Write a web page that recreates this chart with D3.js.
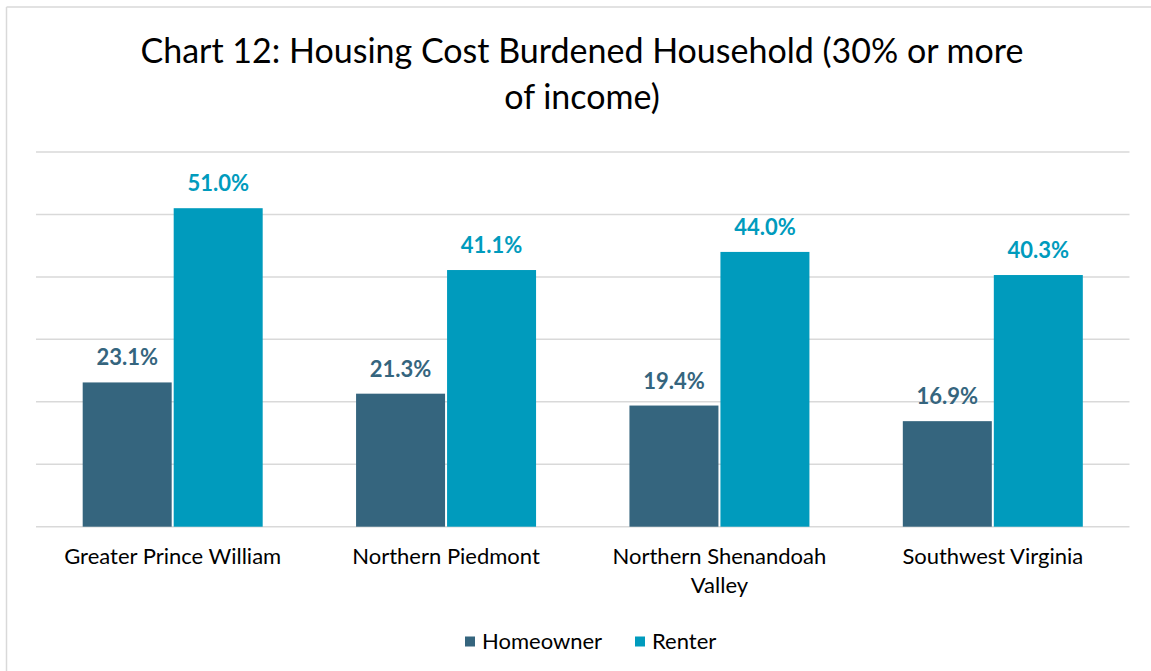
<!DOCTYPE html>
<html>
<head>
<meta charset="utf-8">
<script src="https://cdn.jsdelivr.net/npm/d3@7"></script>
<style>
  html, body { margin: 0; padding: 0; background: #fff; }
  svg { display: block; }
  text { font-family: Lato, "Open Sans", sans-serif; }
</style>
</head>
<body>
<svg id="chart" width="1151" height="671"></svg>
<script>
const titleLines = ["Chart 12: Housing Cost Burdened Household (30% or more", "of income)"];
const categories = ["Greater Prince William", "Northern Piedmont", "Northern Shenandoah Valley", "Southwest Virginia"];
const seriesNames = ["Homeowner", "Renter"];
const homeowner = [23.1, 21.3, 19.4, 16.9];
const renter = [51.0, 41.1, 44.0, 40.3];
const yTicks = [0, 10, 20, 30, 40, 50, 60];
const colors = ["#35657E", "#009BBD"];

const values = [homeowner, renter];
const svg = d3.select("#chart");
const W = 1151, H = 671;

// frame (left & top edges visible)
svg.append("line").attr("x1", 6.5).attr("x2", 6.5).attr("y1", 7).attr("y2", H).attr("stroke", "#d9d9d9").attr("stroke-width", 1.5);
svg.append("line").attr("x1", 6.5).attr("x2", W).attr("y1", 7).attr("y2", 7).attr("stroke", "#d9d9d9").attr("stroke-width", 1.5);

// title
svg.append("g").selectAll("text").data(titleLines).join("text")
  .attr("x", 582).attr("y", (d, i) => 63 + i * 46)
  .attr("text-anchor", "middle")
  .attr("font-size", 34).attr("fill", "#000")
  .text(d => d);

const x0 = d3.scaleBand().domain(categories).range([36, 1129.5]).paddingInner(0.3416).paddingOuter(0.1708);
const x1 = d3.scaleBand().domain(seriesNames).range([0, x0.bandwidth()]).paddingInner(0.022);
const y = d3.scaleLinear().domain([0, 60]).range([526.7, 152]);

// gridlines
svg.append("g").selectAll("line").data(yTicks).join("line")
  .attr("x1", 36).attr("x2", 1129.5)
  .attr("y1", d => y(d)).attr("y2", d => y(d))
  .attr("stroke", "#d9d9d9").attr("stroke-width", 1.5);

// bars
const groups = svg.append("g").selectAll("g").data(categories).join("g")
  .attr("transform", d => `translate(${x0(d)},0)`);

groups.selectAll("rect").data((c, ci) => seriesNames.map((s, si) => ({ s, si, v: values[si][ci] }))).join("rect")
  .attr("x", d => x1(d.s)).attr("width", x1.bandwidth())
  .attr("y", d => y(d.v)).attr("height", d => y(0) - y(d.v))
  .attr("fill", d => colors[d.si]);

groups.selectAll("text.lbl").data((c, ci) => seriesNames.map((s, si) => ({ s, si, v: values[si][ci] }))).join("text")
  .attr("class", "lbl")
  .attr("x", d => x1(d.s) + x1.bandwidth() / 2)
  .attr("y", d => y(d.v) - 17)
  .attr("text-anchor", "middle")
  .attr("font-size", 22).attr("font-weight", "bold")
  .attr("fill", d => colors[d.si])
  .text(d => d.v.toFixed(1) + "%");

// category labels with wrapping
const catG = svg.append("g");
categories.forEach(c => {
  const cx = x0(c) + x0.bandwidth() / 2;
  const t = catG.append("text")
    .attr("x", cx).attr("y", 564)
    .attr("text-anchor", "middle")
    .attr("font-size", 22).attr("fill", "#000");
  const words = c.split(" ");
  let line = [];
  let ts = t.append("tspan").attr("x", cx).attr("dy", 0);
  words.forEach(w => {
    line.push(w);
    ts.text(line.join(" "));
    if (ts.node().getComputedTextLength() > 240 && line.length > 1) {
      line.pop();
      ts.text(line.join(" "));
      line = [w];
      ts = t.append("tspan").attr("x", cx).attr("dy", 29).text(w);
    }
  });
});

// legend
const legend = svg.append("g");
const legX = [465, 635];
seriesNames.forEach((s, i) => {
  legend.append("rect").attr("x", legX[i]).attr("y", 636.5).attr("width", 10).attr("height", 10).attr("fill", colors[i]);
  legend.append("text").attr("x", legX[i] + 17).attr("y", 648.5).attr("font-size", 22).attr("fill", "#000").text(s);
});
</script>
</body>
</html>
